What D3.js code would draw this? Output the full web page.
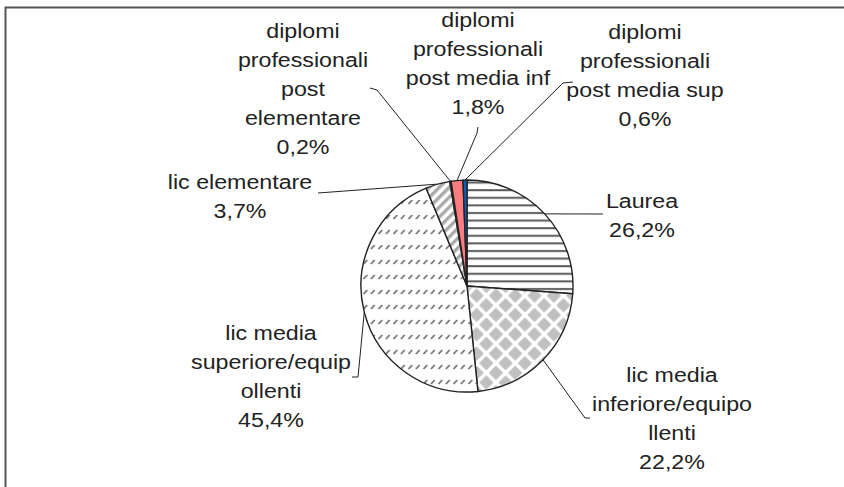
<!DOCTYPE html>
<html>
<head>
<meta charset="utf-8">
<script src="https://cdn.jsdelivr.net/npm/d3@7"></script>
<style>
  html, body { margin: 0; padding: 0; background: #fff; }
  svg { display: block; }
</style>
</head>
<body>
<svg id="chart" width="844" height="487"></svg>
<script>
// data, in pie order (clockwise from 12 o'clock)
const categories = [
    "Laurea",
    "lic media inferiore/equipollenti",
    "lic media superiore/equipollenti",
    "lic elementare",
    "diplomi professionali post elementare",
    "diplomi professionali post media inf",
    "diplomi professionali post media sup"
];
const shares = [26.2, 22.2, 45.4, 3.7, 0.2, 1.8, 0.6];
// category text as wrapped in the picture
const labelLines = [
    ["Laurea"],
    ["lic media", "inferiore/equipo", "llenti"],
    ["lic media", "superiore/equip", "ollenti"],
    ["lic elementare"],
    ["diplomi", "professionali", "post", "elementare"],
    ["diplomi", "professionali", "post media inf"],
    ["diplomi", "professionali", "post media sup"]
];
const fills = ["url(#hstripes)", "url(#diamonds)", "url(#dashes)", "url(#wide)", "#ffffff", "#ff7c80", "#0a5fc0"];

// layout
const width = 844, height = 487;
const cx = 467, cy = 286, radius = 106;
const fontSize = 19.5, stretchX = 1.19, lineH = 29;
// label anchor (centre x, first baseline) and the elbow points of the leader
const labelPos = [
    { x: 642, y: 208, elbow: [[603, 214]] },
    { x: 672, y: 382, elbow: [[590, 418], [585, 418]] },
    { x: 271, y: 340, elbow: [[352, 377], [358, 377]] },
    { x: 240, y: 189, elbow: [[318, 193]] },
    { x: 303, y: 38,  elbow: [[370, 88], [377, 90]] },
    { x: 478, y: 27,  elbow: [[478, 127], [477, 133]] },
    { x: 645, y: 39,  elbow: [[573, 82], [563, 83]] }
];

const fmtPct = v => d3.format(".1f")(v).replace(".", ",") + "%";

const svg = d3.select("#chart");
svg.append("rect").attr("width", width).attr("height", height).attr("fill", "#fff");

// patterns
const defs = svg.append("defs");
const hs = defs.append("pattern").attr("id", "hstripes")
    .attr("patternUnits", "userSpaceOnUse").attr("width", 8).attr("height", 7.6);
hs.append("rect").attr("width", 8).attr("height", 7.6).attr("fill", "#fff");
hs.append("rect").attr("y", 2).attr("width", 8).attr("height", 2).attr("fill", "#5a5a5a");

const t = 19.3, dh = 7.2;
const dm = defs.append("pattern").attr("id", "diamonds")
    .attr("patternUnits", "userSpaceOnUse").attr("width", t).attr("height", t);
dm.append("rect").attr("width", t).attr("height", t).attr("fill", "#fff");
[[t / 2, t / 2], [0, 0], [t, 0], [0, t], [t, t]].forEach(([x, y]) => {
    dm.append("path")
        .attr("d", `M${x},${y - dh}L${x + dh},${y}L${x},${y + dh}L${x - dh},${y}Z`)
        .attr("fill", "#c0c0c0");
});

const ds = defs.append("pattern").attr("id", "dashes")
    .attr("patternUnits", "userSpaceOnUse").attr("width", 7.5).attr("height", 15)
    .attr("x", 0).attr("y", 3);
ds.append("rect").attr("width", 7.5).attr("height", 15).attr("fill", "#fff");
ds.append("line").attr("x1", 1.5).attr("y1", 5).attr("x2", 5.2).attr("y2", 1)
    .attr("stroke", "#6e6e6e").attr("stroke-width", 1.8);

const wd = defs.append("pattern").attr("id", "wide")
    .attr("patternUnits", "userSpaceOnUse").attr("width", 7).attr("height", 7)
    .attr("patternTransform", "rotate(45)");
wd.append("rect").attr("width", 7).attr("height", 7).attr("fill", "#fff");
wd.append("rect").attr("width", 3.4).attr("height", 7).attr("fill", "#aaaaaa");

// frame (open on the right and bottom, cut by the picture edge)
svg.append("path")
    .attr("d", `M5.5,${height}V7.5H${width}`)
    .attr("fill", "none").attr("stroke", "#555").attr("stroke-width", 2);

// pie
const pie = d3.pie().sort(null).value(d => d);
const arcs = pie(shares);
const arc = d3.arc().innerRadius(0).outerRadius(radius);

const g = svg.append("g").attr("transform", `translate(${cx},${cy})`);
g.selectAll("path.slice")
    .data(arcs)
    .join("path")
        .attr("class", "slice")
        .attr("d", arc)
        .attr("fill", (d, i) => fills[i])
        .attr("stroke", "#222")
        .attr("stroke-width", 1.4)
        .attr("stroke-linejoin", "round");

// leader lines, from the slice edge at mid angle to the label
const edgePoint = d => {
    const a = (d.startAngle + d.endAngle) / 2;
    return [cx + radius * Math.sin(a), cy - radius * Math.cos(a)];
};
svg.append("g")
    .selectAll("polyline")
    .data(arcs)
    .join("polyline")
        .attr("points", (d, i) => [...labelPos[i].elbow, edgePoint(d)].map(p => p.join(",")).join(" "))
        .attr("fill", "none")
        .attr("stroke", "#222")
        .attr("stroke-width", 1);

// labels
const labels = svg.append("g")
    .attr("font-family", "'Liberation Sans', Arial, sans-serif")
    .attr("font-size", fontSize)
    .attr("fill", "#222")
    .attr("text-anchor", "middle")
    .selectAll("g")
    .data(categories)
    .join("g")
        .attr("transform", (d, i) => `translate(${labelPos[i].x},${labelPos[i].y})`);

labels.append("text")
    .attr("transform", `scale(${stretchX},1)`)
    .selectAll("tspan")
    .data((d, i) => [...labelLines[i], fmtPct(shares[i])])
    .join("tspan")
        .attr("x", 0)
        .attr("y", (d, j) => j * lineH)
        .text(d => d);
</script>
</body>
</html>
